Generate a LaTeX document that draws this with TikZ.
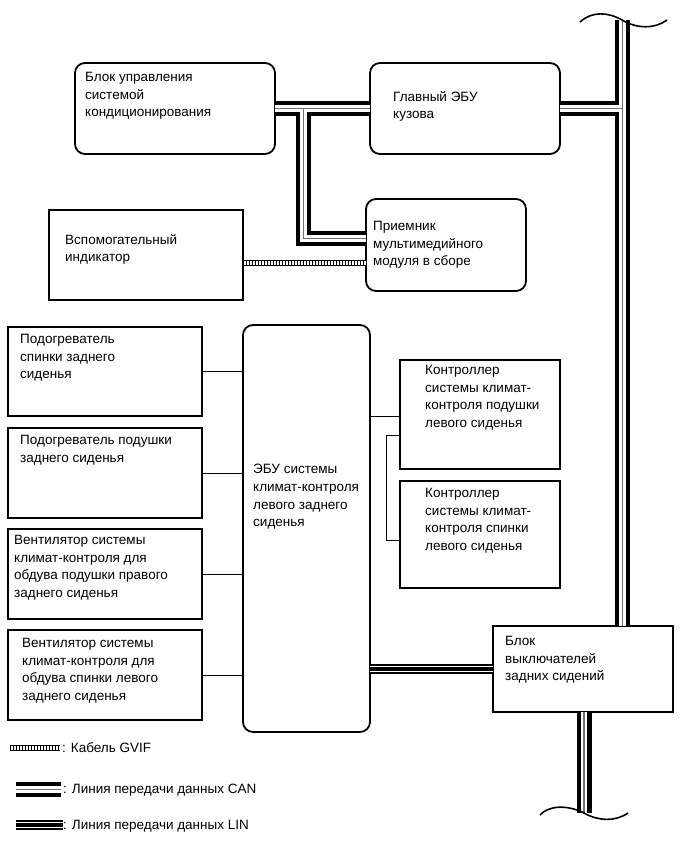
\documentclass[tikz,border=0pt]{standalone}
\usepackage{fontspec}
\setmainfont{Liberation Sans}
\usetikzlibrary{calc}
\begin{document}
\begin{tikzpicture}[x=1pt,y=-1pt,
 rbox/.style={draw, line width=1.8, rounded corners=10, inner sep=0, outer sep=0, anchor=north west},
 sbox/.style={draw, line width=1.1, inner sep=0, outer sep=0, anchor=north west},
 txt/.style={font=\fontsize{13.5}{17.7}\selectfont, align=left, inner sep=0, anchor=north west},
 ltxt/.style={font=\fontsize{13.5}{17.7}\selectfont, inner sep=0, anchor=west},
 thinline/.style={line width=1},
 canA/.style={line width=15},
 canB/.style={line width=6.5, white},
 canC/.style={line width=1.5, black!55},
 linA/.style={line width=9.5},
 linB/.style={line width=6.5, white},
 linC/.style={line width=3.8},
 gvA/.style={line width=6},
 gvB/.style={line width=4, white},
 gvC/.style={line width=4, dash pattern=on 1.3pt off 1.7pt},
 wave/.style={line width=1.6}]
\useasboundingbox (0,0) rectangle (686,856);

% boxes
\node[rbox, minimum width=200, minimum height=91] (ac) at (75,63) {};
\node[rbox, minimum width=190, minimum height=91] (main) at (370,63) {};
\node[sbox, minimum width=194, minimum height=90] (aux) at (49,210) {};
\node[rbox, minimum width=160, minimum height=92] (recv) at (366,199) {};
\node[rbox, minimum width=127, minimum height=407] (ecu) at (243,325) {};
\node[sbox, minimum width=194, minimum height=89] (h1) at (8,327) {};
\node[sbox, minimum width=194, minimum height=90] (h2) at (8,428) {};
\node[sbox, minimum width=194, minimum height=90] (h3) at (8,529) {};
\node[sbox, minimum width=194, minimum height=90] (h4) at (8,630) {};
\node[sbox, minimum width=160, minimum height=109] (c1) at (400,360) {};
\node[sbox, minimum width=160, minimum height=107] (c2) at (400,481) {};
\node[sbox, minimum width=180, minimum height=86] (sw) at (493,626) {};

% texts
\node[txt] (acT) at (85,72) {Блок управления\\системой\\кондиционирования};
\node[txt] (mainT) at (393,91) {Главный ЭБУ\\кузова};
\node[txt] (auxT) at (65,234) {Вспомогательный\\индикатор};
\node[txt] (recvT) at (373,221) {Приемник\\мультимедийного\\модуля в сборе};
\node[txt] (ecuT) at (253,464) {ЭБУ системы\\климат-контроля\\левого заднего\\сиденья};
\node[txt] (h1T) at (20,334) {Подогреватель\\спинки заднего\\сиденья};
\node[txt] (h2T) at (20,435) {Подогреватель подушки\\заднего сиденья};
\node[txt] (h3T) at (14,535) {Вентилятор системы\\климат-контроля для\\обдува подушки правого\\заднего сиденья};
\node[txt] (h4T) at (22,638) {Вентилятор системы\\климат-контроля для\\обдува спинки левого\\заднего сиденья};
\node[txt] (c1T) at (425,365) {Контроллер\\системы климат-\\контроля подушки\\левого сиденья};
\node[txt] (c2T) at (425,488) {Контроллер\\системы климат-\\контроля спинки\\левого сиденья};
\node[txt] (swT) at (505,636) {Блок\\выключателей\\задних сидений};

% helper coordinates
\coordinate (br) at (303.5,108.5);
\coordinate (rv) at (0,238.5);
\coordinate (bt) at (622.5,20);
\coordinate (bb) at (584,813);
\coordinate (ly) at (0,669);
\coordinate (gy) at (0,262.5);
\coordinate (y417) at (0,416);
\coordinate (bk) at (386,435);
\coordinate (bkb) at (0,540);

% thin connectors
\draw[thinline] (h1.east) -- (h1.east -| ecu.west);
\draw[thinline] (h2.east) -- (h2.east -| ecu.west);
\draw[thinline] (h3.east) -- (h3.east -| ecu.west);
\draw[thinline] (h4.east) -- (h4.east -| ecu.west);
\draw[thinline] (ecu.east |- y417) -- (c1.west |- y417);
\draw[thinline] (c1.west |- bk) -- (bk) -- (bk |- bkb) -- (c2.west |- bkb);

% CAN lines
\foreach \s in {canA,canB,canC}{
  \draw[\s] (ac.east) -- (main.west);
  \draw[\s] (main.east) -- (main.east -| bt);
  \draw[\s] (br) -- (br |- rv) -- (recv.west |- rv);
  \draw[\s] (bt) -- (bt |- sw.north);
  \draw[\s] (sw.south -| bb) -- (bb);
}
% LIN line
\foreach \s in {linA,linB,linC}{
  \draw[\s] (ecu.east |- ly) -- (sw.west |- ly);
}
% GVIF cable
\foreach \s in {gvA,gvB,gvC}{
  \draw[\s] (aux.east |- gy) -- (recv.west |- gy);
}

% break waves
\draw[wave] (580,22) .. controls (592,11) and (608,12) .. (622,20) .. controls (637,29) and (655,29) .. (667,20);
\draw[wave] (540,815) .. controls (548,806) and (566,804) .. (584,813) .. controls (598,821) and (615,822) .. (628,813);

% legend
\coordinate (g1) at (10,748); \coordinate (g2) at (60,748);
\coordinate (k1) at (16,789.7); \coordinate (k2) at (61,789.7);
\coordinate (l1) at (16,825); \coordinate (l2) at (63,825);
\foreach \s in {gvA,gvB,gvC}{ \draw[\s] (g1) -- (g2); }
\foreach \s in {canA,canB,canC}{ \draw[\s] (k1) -- (k2); }
\foreach \s in {linA,linB,linC}{ \draw[\s] (l1) -- (l2); }
\node[ltxt] (lg1) at (62,748) {: Кабель GVIF};
\node[ltxt] (lg2) at (63,790) {: Линия передачи данных CAN};
\node[ltxt] (lg3) at (63,826) {: Линия передачи данных LIN};
\end{tikzpicture}
\end{document}
